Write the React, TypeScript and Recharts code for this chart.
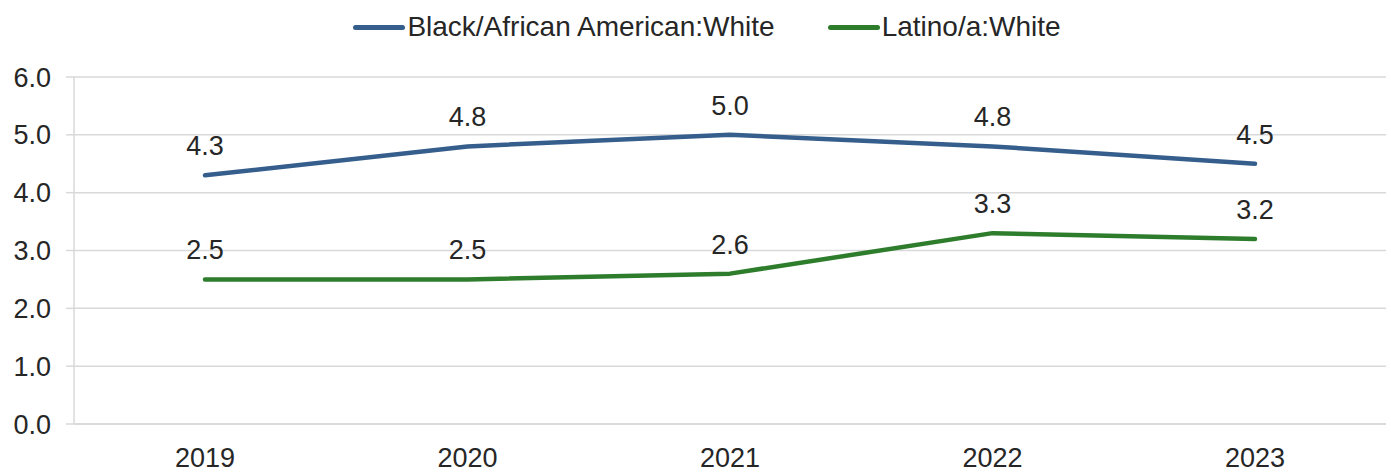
import React from 'react';
import { LineChart, Line, XAxis, YAxis, CartesianGrid, Legend, LabelList } from 'recharts';

const years = ['2019', '2020', '2021', '2022', '2023'];
const blackWhite = [4.3, 4.8, 5.0, 4.8, 4.5];
const latinoWhite = [2.5, 2.5, 2.6, 3.3, 3.2];
const yTicks = [0, 1, 2, 3, 4, 5, 6];

const BLUE = '#355e8d';
const GREEN = '#2e7d2c';
const TEXT = '#262626';
const GRID = '#d9d9d9';
const FONT = '"Liberation Sans", Arial, sans-serif';

const series = [
  { key: 'black', name: 'Black/African American:White', color: BLUE },
  { key: 'latino', name: 'Latino/a:White', color: GREEN },
];

const data = years.map((year, i) => ({
  year,
  black: blackWhite[i],
  latino: latinoWhite[i],
}));

const LegendContent = () => (
  <div
    style={{
      display: 'flex',
      justifyContent: 'center',
      alignItems: 'center',
      height: 34,
      paddingLeft: 28,
      fontFamily: FONT,
      fontSize: 28,
      color: TEXT,
    }}
  >
    {series.map((s, i) => (
      <div key={s.key} style={{ display: 'flex', alignItems: 'center', marginLeft: i ? 53 : 0 }}>
        <span
          style={{
            display: 'inline-block',
            width: 52,
            height: 5,
            borderRadius: 3,
            background: s.color,
            marginRight: 2,
          }}
        />
        <span>{s.name}</span>
      </div>
    ))}
  </div>
);

export default function App() {
  return (
    <div style={{ position: 'absolute', left: 0, top: 0, width: 1391, height: 472, background: '#fff' }}>
      <LineChart width={1391} height={472} data={data} margin={{ top: 10, right: 5, bottom: 0, left: 0 }}>
        <CartesianGrid vertical={false} stroke={GRID} strokeWidth={1.5} />
        <XAxis
          dataKey="year"
          height={48}
          padding={{ left: 131, right: 131 }}
          axisLine={{ stroke: GRID, strokeWidth: 1.5 }}
          tickLine={false}
          tick={{ fill: TEXT, fontSize: 27, fontFamily: FONT }}
          tickMargin={18}
        />
        <YAxis
          width={74}
          domain={[0, 6]}
          ticks={yTicks}
          interval={0}
          tickFormatter={(v: number) => v.toFixed(1)}
          axisLine={{ stroke: GRID, strokeWidth: 1.5 }}
          tickLine={{ stroke: GRID, strokeWidth: 1.5 }}
          tickSize={8}
          tickMargin={15}
          tick={{ fill: TEXT, fontSize: 27, fontFamily: FONT }}
        />
        <Legend verticalAlign="top" height={67} content={<LegendContent />} />
        {series.map((s) => (
          <Line
            key={s.key}
            type="linear"
            dataKey={s.key}
            name={s.name}
            stroke={s.color}
            strokeWidth={4.5}
            strokeLinecap="round"
            strokeLinejoin="round"
            dot={false}
            activeDot={false}
            isAnimationActive={false}
          >
            <LabelList
              dataKey={s.key}
              position="top"
              offset={20}
              formatter={(v: number) => v.toFixed(1)}
              style={{ fill: TEXT, fontSize: 27, fontFamily: FONT }}
            />
          </Line>
        ))}
      </LineChart>
    </div>
  );
}
